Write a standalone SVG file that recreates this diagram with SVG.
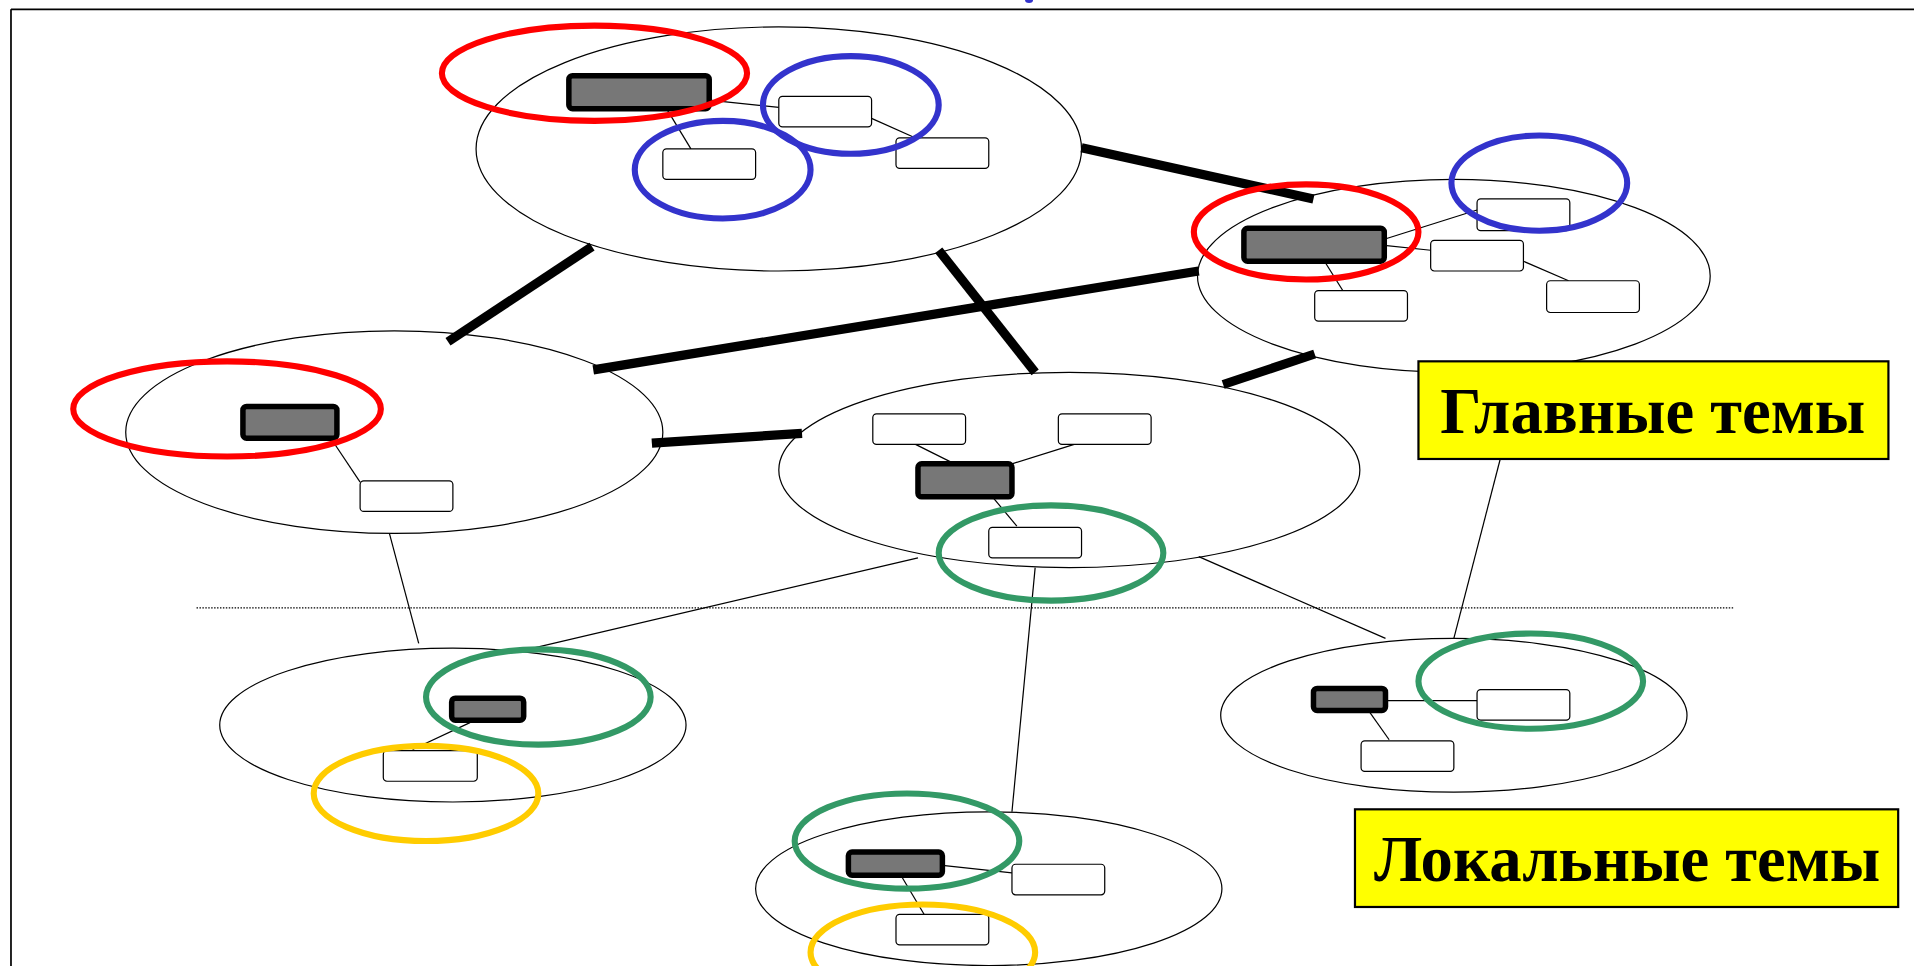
<svg xmlns="http://www.w3.org/2000/svg" width="1914" height="966" viewBox="0 0 1914 966">
<style>
.frame{stroke:#000;stroke-width:1.4;fill:none}
.big{fill:none;stroke:#000;stroke-width:1}
.thick{stroke:#000;stroke-width:7.5;fill:none}
.thin{stroke:#000;stroke-width:1;fill:none}
.dot{stroke:#000;stroke-width:1;stroke-dasharray:1.2 1.2;fill:none}
.wb{fill:#fff;stroke:#000;stroke-width:1}
.db{fill:#777;stroke:#000;stroke-width:4.5}
.red{fill:none;stroke:#ff0000;stroke-width:5}
.blue{fill:none;stroke:#3333cc;stroke-width:5}
.green{fill:none;stroke:#339966;stroke-width:5}
.yel{fill:none;stroke:#ffcc00;stroke-width:5}
.lab{fill:#ffff00;stroke:#000;stroke-width:1.8}
.lt{font-family:"Liberation Serif","Times New Roman",serif;font-weight:bold;font-size:53px;fill:#000;text-anchor:middle}
</style>
<rect x="0" y="0" width="1914" height="966" fill="#fff"/>
<g transform="scale(1.2207)">
<g id="frame">
<line class="frame" x1="9" y1="7.6" x2="1570" y2="7.6"/>
<line class="frame" x1="9" y1="7.6" x2="9" y2="800"/>
<ellipse cx="843" cy="0" rx="3.3" ry="2.5" fill="#3333cc"/>
</g>
<g id="connectors">
<line class="thick" x1="886" y1="121" x2="1076" y2="163"/>
<line class="thick" x1="485" y1="202" x2="367" y2="280"/>
<line class="thick" x1="769" y1="205" x2="848" y2="305"/>
<line class="thick" x1="486" y1="303" x2="982" y2="222"/>
<line class="thick" x1="534" y1="363" x2="657" y2="355"/>
<line class="thick" x1="1002" y1="315" x2="1077" y2="290"/>
<line class="thin" x1="319" y1="437" x2="343" y2="527"/>
<line class="thin" x1="752" y1="457" x2="428" y2="533"/>
<line class="thin" x1="848" y1="465" x2="829" y2="665"/>
<line class="thin" x1="982" y1="456" x2="1135" y2="523"/>
<line class="thin" x1="1191" y1="523" x2="1229" y2="376"/>
<line class="dot" x1="161" y1="498" x2="1420" y2="498"/>
</g>
<g id="cluster-top">
<ellipse class="big" cx="638" cy="122" rx="248" ry="100"/>
<line class="thin" x1="581" y1="82" x2="638" y2="88"/>
<line class="thin" x1="714" y1="97" x2="750" y2="113"/>
<line class="thin" x1="546" y1="89" x2="566" y2="122"/>
<rect class="db" x="466" y="62" width="115" height="27" rx="3"/>
<rect class="wb" x="638" y="79" width="76" height="25" rx="3"/>
<rect class="wb" x="734" y="113" width="76" height="25" rx="3"/>
<rect class="wb" x="543" y="122" width="76" height="25" rx="3"/>
<ellipse class="red" cx="487" cy="60" rx="125" ry="39"/>
<ellipse class="blue" cx="697" cy="86" rx="72" ry="40"/>
<ellipse class="blue" cx="592" cy="139" rx="72" ry="40"/>
</g>
<g id="cluster-right">
<ellipse class="big" cx="1191" cy="226" rx="210" ry="79"/>
<line class="thin" x1="1134" y1="196" x2="1210" y2="172"/>
<line class="thin" x1="1134" y1="201" x2="1172" y2="205"/>
<line class="thin" x1="1248" y1="214" x2="1285" y2="230"/>
<line class="thin" x1="1085" y1="214" x2="1100" y2="238"/>
<rect class="db" x="1019" y="187" width="115" height="27" rx="3"/>
<rect class="wb" x="1210" y="163" width="76" height="26" rx="3"/>
<rect class="wb" x="1172" y="197" width="76" height="25" rx="3"/>
<rect class="wb" x="1267" y="230" width="76" height="26" rx="3"/>
<rect class="wb" x="1077" y="238" width="76" height="25" rx="3"/>
<ellipse class="red" cx="1070" cy="190" rx="92" ry="39"/>
<ellipse class="blue" cx="1261" cy="150" rx="72" ry="39"/>
</g>
<g id="cluster-left">
<ellipse class="big" cx="323" cy="354" rx="220" ry="83"/>
<line class="thin" x1="271" y1="359" x2="295" y2="395"/>
<rect class="db" x="199" y="333" width="77" height="26" rx="3"/>
<rect class="wb" x="295" y="394" width="76" height="25" rx="3"/>
<ellipse class="red" cx="186" cy="335" rx="126" ry="39"/>
</g>
<g id="cluster-center">
<ellipse class="big" cx="876" cy="385" rx="238" ry="80"/>
<line class="thin" x1="750" y1="364" x2="782" y2="380"/>
<line class="thin" x1="880" y1="364" x2="829" y2="380"/>
<line class="thin" x1="813" y1="407" x2="833" y2="431"/>
<rect class="wb" x="715" y="339" width="76" height="25" rx="3"/>
<rect class="wb" x="867" y="339" width="76" height="25" rx="3"/>
<rect class="db" x="752" y="380" width="77" height="27" rx="3"/>
<rect class="wb" x="810" y="432" width="76" height="25" rx="3"/>
<ellipse class="green" cx="861" cy="453" rx="92" ry="39"/>
</g>
<g id="label-main">
<rect class="lab" x="1162" y="296" width="385" height="80"/>
<text class="lt" x="1354" y="355">Главные темы</text>
</g>
<g id="cluster-lowleft">
<ellipse class="big" cx="371" cy="594" rx="191" ry="63"/>
<line class="thin" x1="385" y1="592" x2="338" y2="614"/>
<rect class="db" x="370" y="572" width="59" height="18" rx="3"/>
<rect class="wb" x="314" y="615" width="77" height="25" rx="3"/>
<ellipse class="green" cx="441" cy="571" rx="92" ry="39"/>
<ellipse class="yel" cx="349" cy="650" rx="92" ry="39"/>
</g>
<g id="cluster-lowright">
<ellipse class="big" cx="1191" cy="586" rx="191" ry="63"/>
<line class="thin" x1="1135" y1="574" x2="1210" y2="574"/>
<line class="thin" x1="1121" y1="582" x2="1138" y2="606"/>
<rect class="db" x="1076" y="564" width="59" height="18" rx="3"/>
<rect class="wb" x="1210" y="565" width="76" height="25" rx="3"/>
<rect class="wb" x="1115" y="607" width="76" height="25" rx="3"/>
<ellipse class="green" cx="1254" cy="558" rx="92" ry="39"/>
</g>
<g id="cluster-bottom">
<ellipse class="big" cx="810" cy="728" rx="191" ry="63"/>
<line class="thin" x1="772" y1="709" x2="829" y2="715"/>
<line class="thin" x1="738" y1="717" x2="757" y2="749"/>
<rect class="db" x="695" y="698" width="77" height="19" rx="3"/>
<rect class="wb" x="829" y="708" width="76" height="25" rx="3"/>
<rect class="wb" x="734" y="749" width="76" height="25" rx="3"/>
<ellipse class="green" cx="743" cy="689" rx="92" ry="39"/>
<ellipse class="yel" cx="756" cy="780" rx="92" ry="39"/>
</g>
<g id="label-local">
<rect class="lab" x="1110" y="663" width="445" height="80"/>
<text class="lt" x="1333" y="722">Локальные темы</text>
</g>
</g>
</svg>
